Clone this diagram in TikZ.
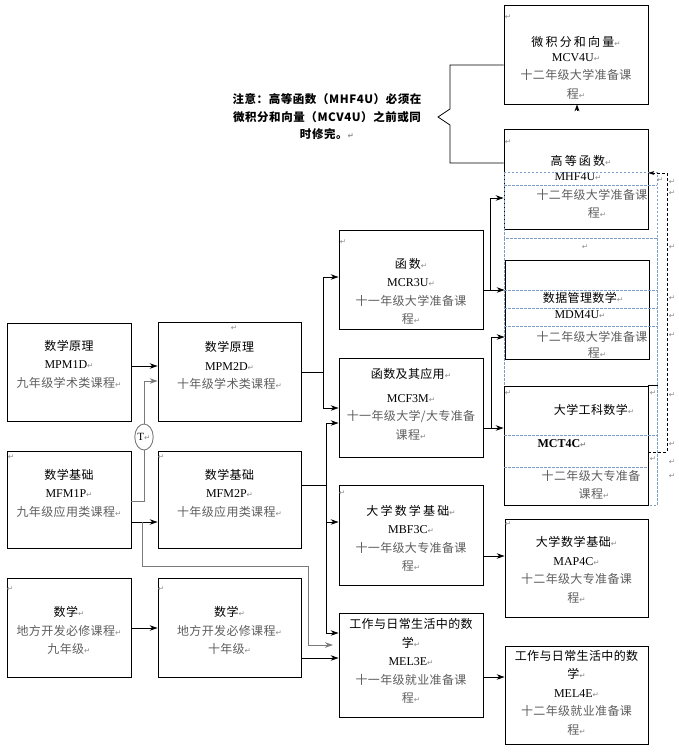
\documentclass[tikz,border=0pt]{standalone}
\usepackage{fontspec}
\setmainfont{Liberation Serif}
\newfontfamily\cjk{Noto Sans CJK SC}[LetterSpace=3]
\newfontfamily\cjkw{Noto Sans CJK SC}[LetterSpace=18]
\newfontfamily\cjkn{Noto Sans CJK SC}[LetterSpace=5]
\newfontfamily\retf{DejaVu Sans}
\usetikzlibrary{arrows.meta,shapes.geometric}
\definecolor{gradec}{HTML}{5E5E5E}
\definecolor{retc}{HTML}{8A8A8A}
\definecolor{dashblue}{HTML}{7F9DC9}
\definecolor{conngray}{HTML}{7A7A7A}
\newcommand\rt{{\retf\fontsize{7.5}{7.5}\selectfont\color{retc}↵}}
\newcommand\C[1]{{\cjk #1}}
\newcommand\W[1]{{\cjkw #1}}
\newcommand\G[1]{{\cjk\color{gradec}#1}}
\tikzset{
  box/.style={draw, line width=0.8pt, inner sep=0pt, rectangle},
  txt/.style={align=center, inner sep=0pt, font=\fontsize{12}{18.5}\selectfont},
  ret/.style={inner sep=0pt, font=\retf\fontsize{7.5}{7.5}\selectfont, text=retc},
  ln/.style={line width=0.8pt},
  arr/.style={-{Stealth[length=8pt,width=5.5pt]}, line width=0.8pt},
  garr/.style={arr, draw=conngray, line width=1pt},
  gln/.style={draw=conngray, line width=1pt},
  darr/.style={-{Stealth[length=6pt,width=4pt]}, dash pattern=on 3pt off 2pt, line width=0.8pt},
  bd/.style={draw=dashblue, dash pattern=on 2.5pt off 1.5pt, line width=0.7pt},
}
\begin{document}
\begin{tikzpicture}[x=1pt,y=-1pt]
\useasboundingbox (0,0) rectangle (678,753);

% ---------- boxes ----------
\node[box, minimum width=144pt, minimum height=99pt] (mcv4u) at (576,54.5) {};
\node[box, minimum width=144pt, minimum height=100pt] (mhf4u) at (576,179) {};
\node[box, minimum width=144pt, minimum height=99pt] (mdm4u) at (577,309.5) {};
\node[box, minimum width=144pt, minimum height=119pt] (mct4c) at (576,445.5) {};
\node[box, minimum width=143pt, minimum height=98pt] (map4c) at (576.5,568) {};
\node[box, minimum width=143pt, minimum height=98pt] (mel4e) at (576.5,695) {};
\node[box, minimum width=144pt, minimum height=99pt] (mcr3u) at (411,279.5) {};
\node[box, minimum width=144pt, minimum height=99pt] (mcf3m) at (411,407.5) {};
\node[box, minimum width=144pt, minimum height=100pt] (mbf3c) at (411,535) {};
\node[box, minimum width=144pt, minimum height=104pt] (mel3e) at (411,665) {};
\node[box, minimum width=124pt, minimum height=98pt] (mpm1d) at (69,372) {};
\node[box, minimum width=143pt, minimum height=99pt] (mpm2d) at (229.5,371.5) {};
\node[box, minimum width=124pt, minimum height=97pt] (mfm1p) at (69,499.5) {};
\node[box, minimum width=143pt, minimum height=97pt] (mfm2p) at (229.5,499.5) {};
\node[box, minimum width=124pt, minimum height=99pt] (loc9) at (69,627.5) {};
\node[box, minimum width=143pt, minimum height=99pt] (loc10) at (229.5,627.5) {};

% ---------- box texts ----------
\node[txt] (tmpm1d) at (69,364) {\C{数学原理}\\MPM1D\rt\\\G{九年级学术类课程}\rt};
\node[txt] (tmpm2d) at (229.5,365.5) {\C{数学原理}\\MPM2D\rt\\\G{十年级学术类课程}\rt};
\node[txt] (tmfm1p) at (69,493) {\C{数学基础}\\MFM1P\rt\\\G{九年级应用类课程}\rt};
\node[txt] (tmfm2p) at (229.5,493) {\C{数学基础}\\MFM2P\rt\\\G{十年级应用类课程}\rt};
\node[txt] (tloc9) at (69,630.5) {{\cjkn 数学}\rt\\\G{地方开发必修课程}\rt\\\G{九年级}\rt};
\node[txt] (tloc10) at (229.5,630.5) {{\cjkn 数学}\rt\\\G{地方开发必修课程}\rt\\\G{十年级}\rt};
\node[txt] (tmcr3u) at (411,291.5) {\W{函数}\rt\\MCR3U\rt\\\G{十一年级大学准备课}\\\G{程}\rt};
\node[txt] (tmcf3m) at (411,404.5) {\C{函数及其应用}\rt\\[5pt]MCF3M\rt\\\G{十一年级大学/大专准备}\\\G{课程}\rt};
\node[txt] (tmbf3c) at (411,538.5) {\W{大学数学基础}\rt\\MBF3C\rt\\\G{十一年级大专准备课}\\\G{程}\rt};
\node[txt] (tmel3e) at (411,661) {\C{工作与日常生活中的数}\\\C{学}\rt\\MEL3E\rt\\\G{十一年级就业准备课}\\\G{程}\rt};
\node[txt] (tmap4c) at (576.5,570) {{\cjkn 大学数学基础}\rt\\MAP4C\rt\\\G{十二年级大专准备课}\\\G{程}\rt};
\node[txt] (tmel4e) at (576.5,692.5) {\C{工作与日常生活中的数}\\\C{学}\rt\\MEL4E\rt\\\G{十二年级就业准备课}\\\G{程}\rt};
\node[txt] (tmcv4u) at (576,68) {\W{微积分和向量}\rt\\[-4pt]MCV4U\rt\\\G{十二年级大学准备课}\\\G{程}\rt};

\node[txt] (th1) at (581,161) {\W{高等函数}\rt};
\node[txt] (th2) at (578,177) {MHF4U\rt};
\node[txt] (th3) at (592,195) {\G{十二年级大学准备课}};
\node[txt] (th4) at (597,213) {\G{程}\rt};

\node[txt] (td1) at (583,298) {\C{数据管理数学}\rt};
\node[txt] (td2) at (580,315) {MDM4U\rt};
\node[txt] (td3) at (592,337) {\G{十二年级大学准备课}};
\node[txt] (td4) at (597,353) {\G{程}\rt};

\node[txt] (tc1) at (594,410) {\C{大学工科数学}\rt};
\node[txt] (tc2) at (562,444) {\bfseries MCT4C\rt};
\node[txt] (tc3) at (591,476) {\G{十二年级大专准备}};
\node[txt] (tc4) at (594,494) {\G{课程}\rt};

% ---------- note ----------
\node[align=center, inner sep=0pt, font=\fontsize{11.5}{17.5}\selectfont\cjkn\bfseries] (note) at (327,117)
  {注意：高等函数（MHF4U）必须在\\微积分和向量（MCV4U）之前或同\\时修完。\rt};
\draw[ln] (mcv4u.west |- 0,65) -- (450,65) -- (450,109) -- (438,117) -- (450,125) -- (450,163) -- (mhf4u.west |- 0,163);

% ---------- stray paragraph marks ----------
\foreach \x/\y [count=\i] in {508/17, 508/142, 343/242, 234/328, 11/457, 161/457, 10/589, 161/589,
  342/493, 508/524, 508/393, 585/247, 660/180, 653/393, 653/459,
  672/182, 672/193, 672/247, 672/298, 672/316, 672/335, 672/395, 672/444, 672/462, 672/476}
  \node[ret] (ret\i) at (\x,\y) {↵};

% ---------- blue dashed frames ----------
\draw[bd] (504,172) rectangle (657,238);
\draw[bd] (504,185) -- (657,185);
\draw[bd] (504,238) -- (504,386);
\draw[bd] (657,238) -- (657,505) -- (648,505);
\draw[bd] (504,290) -- (657,290);
\draw[bd] (504,308) -- (657,308);
\draw[bd] (504,326) -- (657,326);
\draw[bd] (504,435) -- (657,435);
\draw[bd] (504,467) -- (648,467);
\draw[ln] (mct4c.north east) -- ++(10,0);

% ---------- connectors ----------
\draw[arr] (mpm1d.east |- 0,366) -- (mpm2d.west |- 0,366);
\node[draw=conngray, ellipse, line width=0.9pt, fill=white, minimum width=18pt, minimum height=26pt,
      inner sep=0pt, font=\fontsize{11}{11}\selectfont] (t) at (144,437) {T\rt};
\draw[gln] (mfm1p.east |- 0,501) -| (t.south);
\draw[garr] (t.north) |- (mpm2d.west |- 0,381);
\draw[arr] (mfm1p.east |- 0,522) -- (mfm2p.west |- 0,522);
\coordinate (j1) at (142,522);
\coordinate (g1) at (308,566);
\coordinate (gend) at (333,645);
\draw[garr] (j1) |- (g1) |- (gend);
\draw[arr] (loc9.east |- 0,628) -- (loc10.west |- 0,628);
\draw[arr] (loc10.east |- 0,658) -- (mel3e.west |- 0,658);

\coordinate (b1) at (323,372);
\draw[ln] (mpm2d.east |- b1) -- (b1);
\draw[arr] (b1) |- (mcr3u.west |- 0,277);
\draw[arr] (b1) |- (mcf3m.west |- 0,408);

\coordinate (b2) at (326,485);
\draw[ln] (mfm2p.east |- b2) -- (b2);
\draw[arr] (b2) |- (mcf3m.west |- 0,423);
\draw[arr] (b2) |- (mbf3c.west |- 0,522);
\draw[arr] (b2) |- (mel3e.west |- 0,633);

\coordinate (b3) at (490,290);
\draw[arr] (mcr3u.east |- b3) -- (mdm4u.west |- b3);
\draw[arr] (b3) |- (mhf4u.west |- 0,198);

\coordinate (b4) at (491,428);
\draw[arr] (mcf3m.east |- b4) -- (mct4c.west |- b4);
\draw[arr] (b4) |- (mdm4u.west |- 0,337);

\draw[arr] (mbf3c.east |- 0,556) -- (map4c.west |- 0,556);
\draw[arr] (mel3e.east |- 0,677) -- (mel4e.west |- 0,677);

\coordinate (dk1) at (667,452);
\coordinate (dk2) at (667,173);
\draw[darr] (mct4c.east |- dk1) -- (dk1) -- (dk2) -- (mhf4u.east |- dk2);

\coordinate (up1) at (577,111);
\draw[-{Stealth[length=7pt,width=5pt]}, line width=0.8pt] (up1) -- (mcv4u.south -| up1);
\end{tikzpicture}
\end{document}
